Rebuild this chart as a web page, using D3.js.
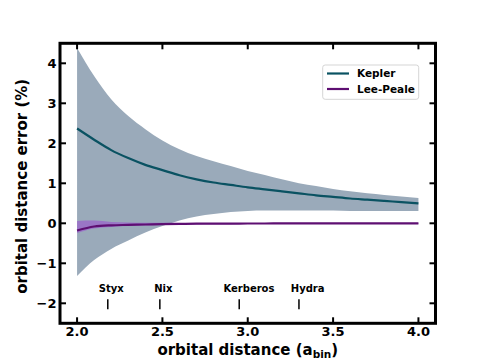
<!DOCTYPE html>
<html><head><meta charset="utf-8">
<script src="https://cdn.jsdelivr.net/npm/d3@7"></script>
<style>body{margin:0;background:#fff;} text{font-family:"DejaVu Sans",sans-serif;font-weight:bold;}</style>
</head><body>
<svg id="c" width="484" height="363"></svg>
<script>
const xs = [2.0,2.1,2.2,2.3,2.4,2.5,2.6,2.7,2.8,2.9,3.0,3.1,3.2,3.3,3.4,3.5,3.6,3.7,3.8,3.9,4.0];
const keplerMean = [2.37,2.09,1.83,1.63,1.46,1.33,1.20,1.10,1.02,0.96,0.90,0.85,0.80,0.75,0.70,0.66,0.62,0.59,0.56,0.53,0.50];
const keplerUpper = [4.38,3.68,3.10,2.68,2.35,2.07,1.85,1.68,1.55,1.43,1.31,1.21,1.10,1.00,0.93,0.86,0.80,0.75,0.71,0.67,0.63];
const keplerLower = [-1.32,-0.92,-0.64,-0.43,-0.23,-0.07,0.07,0.17,0.23,0.28,0.31,0.32,0.32,0.32,0.32,0.32,0.31,0.31,0.31,0.31,0.31];
const leeMean = [-0.18,-0.08,-0.05,-0.04,-0.03,-0.02,-0.015,-0.01,-0.01,-0.01,-0.005,-0.005,0,0,0,0,0,0,0,0,0];
const leeUpper = [0.06,0.07,0.035,0.02,0.015,0.012,0.01,0.01,0.01,0.01,0.01,0.01,0.01,0.01,0.01,0.01,0.01,0.01,0.01,0.01,0.01];
const leeLower = [-0.24,-0.13,-0.09,-0.07,-0.055,-0.045,-0.035,-0.03,-0.025,-0.022,-0.02,-0.02,-0.015,-0.015,-0.012,-0.012,-0.01,-0.01,-0.01,-0.01,-0.01];
const xTicks = [2.0,2.5,3.0,3.5,4.0];
const yTicks = [-2,-1,0,1,2,3,4];
const moons = ["Styx","Nix","Kerberos","Hydra"];
const moonX = [2.18,2.485,2.95,3.30];
const moonLabelX = [2.2,2.505,3.007,3.351];
const seriesNames = ["Kepler","Lee-Peale"];

const svg = d3.select("#c");
const L=60, R=435.5, T=43.3, B=323.3;
const x = d3.scaleLinear().domain([1.9,4.1]).range([L,R]);
const y = d3.scaleLinear().domain([-2.5,4.5]).range([B,T]);

const area = (up,lo)=>d3.area().curve(d3.curveMonotoneX).x((d,i)=>x(xs[i])).y0((d,i)=>y(lo[i])).y1((d,i)=>y(up[i]));
const line = arr=>d3.line().curve(d3.curveMonotoneX).x((d,i)=>x(xs[i])).y((d,i)=>y(arr[i]));

svg.append("path").datum(xs).attr("d",area(keplerUpper,keplerLower)).attr("fill","#9aaaba");
svg.append("path").datum(xs).attr("d",line(keplerMean)).attr("fill","none").attr("stroke","#0a5262").attr("stroke-width",2.2);
svg.append("path").datum(xs).attr("d",area(leeUpper,leeLower)).attr("fill","#9a5bcc").attr("opacity",0.65);
svg.append("path").datum(xs).attr("d",line(leeMean)).attr("fill","none").attr("stroke","#5e0f72").attr("stroke-width",2.2);

// moons
moons.forEach((m,i)=>{
  svg.append("line").attr("x1",x(moonX[i])).attr("x2",x(moonX[i])).attr("y1",y(-1.9)).attr("y2",y(-2.15)).attr("stroke","#000").attr("stroke-width",1.5);
  svg.append("text").attr("x",x(moonLabelX[i])).attr("y",y(-1.62)).attr("dy","0.35em").attr("text-anchor","middle").attr("font-size",10).text(m);
});

// axes (inward ticks)
const tl=6;
const ax = svg.append("g");
xTicks.forEach(t=>{
  ax.append("line").attr("x1",x(t)).attr("x2",x(t)).attr("y1",B).attr("y2",B-tl).attr("stroke","#000").attr("stroke-width",2);
  ax.append("line").attr("x1",x(t)).attr("x2",x(t)).attr("y1",T).attr("y2",T+tl).attr("stroke","#000").attr("stroke-width",2);
  ax.append("text").attr("x",x(t)).attr("y",B+13).attr("text-anchor","middle").attr("font-size",13).text(d3.format(".1f")(t));
});
yTicks.forEach(t=>{
  ax.append("line").attr("x1",L).attr("x2",L+tl).attr("y1",y(t)).attr("y2",y(t)).attr("stroke","#000").attr("stroke-width",2);
  ax.append("line").attr("x1",R).attr("x2",R-tl).attr("y1",y(t)).attr("y2",y(t)).attr("stroke","#000").attr("stroke-width",2);
  ax.append("text").attr("x",L-3.5).attr("y",y(t)).attr("dy","0.36em").attr("text-anchor","end").attr("font-size",13).text(t<0?"\u2212"+Math.abs(t):t);
});
svg.append("rect").attr("x",L).attr("y",T).attr("width",R-L).attr("height",B-T).attr("fill","none").attr("stroke","#000").attr("stroke-width",3);

// axis labels
const xl = svg.append("text").attr("x",(L+R)/2).attr("y",355).attr("text-anchor","middle").attr("font-size",15);
xl.append("tspan").text("orbital distance (a");
xl.append("tspan").attr("font-size",10.5).attr("dy",3).text("bin");
xl.append("tspan").attr("dy",-3).text(")");
svg.append("text").attr("transform",`translate(27,${(T+B)/2+3}) rotate(-90)`).attr("text-anchor","middle").attr("font-size",15).text("orbital distance error (%)");

// legend
const lg = svg.append("g");
lg.append("rect").attr("x",322.7).attr("y",65).attr("width",96).attr("height",34.3).attr("rx",2.5).attr("fill","#fff").attr("fill-opacity",0.8).attr("stroke","#d5d5d5").attr("stroke-width",1);
const lcol=["#0a5262","#5e0f72"];
seriesNames.forEach((s,i)=>{
  const yy = 73.5+i*15.5;
  lg.append("line").attr("x1",327).attr("x2",349).attr("y1",yy).attr("y2",yy).attr("stroke",lcol[i]).attr("stroke-width",2.2);
  lg.append("text").attr("x",357).attr("y",yy).attr("dy","0.36em").attr("font-size",10.5).text(s);
});
</script>
</body></html>
